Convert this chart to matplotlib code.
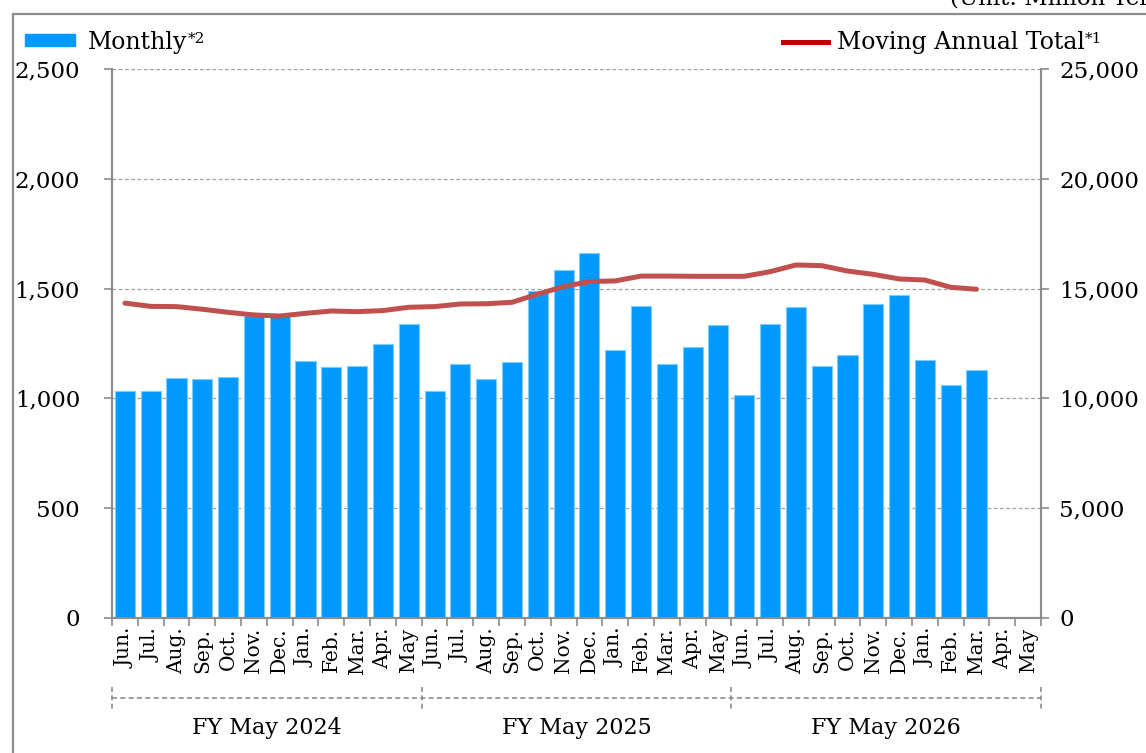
import matplotlib
matplotlib.use("Agg")
import matplotlib.pyplot as plt
import matplotlib.transforms as mtransforms
from matplotlib.patches import Rectangle
from matplotlib.lines import Line2D
from matplotlib.ticker import FuncFormatter

plt.rcParams['font.family'] = ['DejaVu Serif']

months = ["Jun.", "Jul.", "Aug.", "Sep.", "Oct.", "Nov.", "Dec.",
          "Jan.", "Feb.", "Mar.", "Apr.", "May"] * 3
fiscal_years = ["FY May 2024", "FY May 2025", "FY May 2026"]

# monthly sales (left axis), Jun 2023 .. Mar 2026
monthly = [1033, 1034, 1092, 1090, 1096, 1375, 1375, 1169, 1144, 1146, 1246, 1340,
           1034, 1155, 1088, 1164, 1490, 1586, 1660, 1220, 1421, 1157, 1233, 1334,
           1015, 1340, 1416, 1148, 1199, 1428, 1469, 1173, 1061, 1129]
# moving annual total (right axis)
moving_annual = [14340, 14190, 14180, 14060, 13920, 13800, 13750, 13875, 13980, 13950, 14000, 14150,
                 14180, 14300, 14310, 14375, 14750, 15090, 15320, 15350, 15570, 15570, 15560, 15560,
                 15560, 15770, 16075, 16045, 15800, 15650, 15440, 15390, 15060, 14970]

BAR_COLOR = "#0099FF"
LINE_COLOR = "#C0504D"
GREY = "#8C8C8C"

fig = plt.figure(figsize=(11.46, 7.53), dpi=100)
ax = fig.add_axes([112 / 1146, 1 - 618 / 753, (1041 - 112) / 1146, (618 - 69) / 753])
ax2 = ax.twinx()

x = list(range(len(monthly)))
ax.bar(x, monthly, width=0.78, color=BAR_COLOR, edgecolor="#7FCCFF", linewidth=0.8, zorder=2)
ax2.plot(x, moving_annual, color=LINE_COLOR, lw=3.6, solid_capstyle="round", zorder=3)

ax.set_xlim(-0.5, len(months) - 0.5)
ax.set_ylim(0, 2500)
ax2.set_ylim(0, 25000)
ax.set_yticks(range(0, 2501, 500))
ax2.set_yticks(range(0, 25001, 5000))
ax.yaxis.set_major_formatter(FuncFormatter(lambda v, p: f"{v:,.0f}"))
ax2.yaxis.set_major_formatter(FuncFormatter(lambda v, p: f"{v:,.0f}"))

ax.set_axisbelow(True)
ax.yaxis.grid(True, color="#A0A0A0", lw=0.9, ls=(0, (3, 2)))

# x ticks at slot boundaries, labels at slot centers
ax.set_xticks([i - 0.5 for i in range(len(months) + 1)])
ax.set_xticklabels([])
ax.set_xticks(range(len(months)), minor=True)
ax.set_xticklabels(months, minor=True, rotation=90, ha="center", va="top")
ax.tick_params(axis="x", which="major", length=6, width=1.2, color=GREY, direction="out")
ax.tick_params(axis="x", which="minor", length=0, pad=7, labelsize=14.5)
ax.tick_params(axis="y", length=6, width=1.2, color=GREY, pad=17, labelsize=16.5)
ax2.tick_params(axis="y", length=6, width=1.2, color=GREY, pad=7, labelsize=16.5)

for a in (ax, ax2):
    a.spines["top"].set_visible(False)
    for s in ("left", "right", "bottom"):
        a.spines[s].set_color(GREY)
        a.spines[s].set_linewidth(1.5)

# fiscal year brackets
trans = mtransforms.blended_transform_factory(ax.transData, ax.transAxes)
n_years = len(fiscal_years)
ax.plot([-0.5, len(months) - 0.5], [-0.1457, -0.1457], transform=trans, clip_on=False,
        color=GREY, lw=1.2, ls=(0, (3, 2)))
for k in range(n_years + 1):
    xb = k * 12 - 0.5
    ax.plot([xb, xb], [-0.1257, -0.1694], transform=trans, clip_on=False,
            color=GREY, lw=1.2, ls=(0, (3, 2)))
for k, fy in enumerate(fiscal_years):
    ax.text(k * 12 + 5.5, -0.2004, fy, transform=trans, ha="center", va="center", fontsize=16)

# outer frame
fig.add_artist(Rectangle((13 / 1146, -0.1), 1.2, 1 - 14 / 753 + 0.1, transform=fig.transFigure,
                         fill=False, ec=GREY, lw=1.6, clip_on=False))
fig.text(950 / 1146, 1 - 4 / 753, "(Unit: Million Yen)", ha="left", va="baseline", fontsize=16.5)

# legend
fig.add_artist(Rectangle((25 / 1146, 1 - 46 / 753), 50 / 1146, 12 / 753,
                         transform=fig.transFigure, color=BAR_COLOR))
t1 = fig.text(88 / 1146, 1 - 42 / 753, "Monthly", ha="left", va="center", fontsize=17)
ax.annotate("*2", xy=(1, 0.95), xycoords=t1, ha="left", va="top", fontsize=11)

fig.add_artist(Line2D([783 / 1146, 828 / 1146], [1 - 42 / 753, 1 - 42 / 753],
                      transform=fig.transFigure, color="#C00000", lw=3.6))
t2 = fig.text(837 / 1146, 1 - 42 / 753, "Moving Annual Total", ha="left", va="center", fontsize=17)
ax.annotate("*1", xy=(1, 0.95), xycoords=t2, ha="left", va="top", fontsize=11)

fig.savefig("out.png", dpi=100)
